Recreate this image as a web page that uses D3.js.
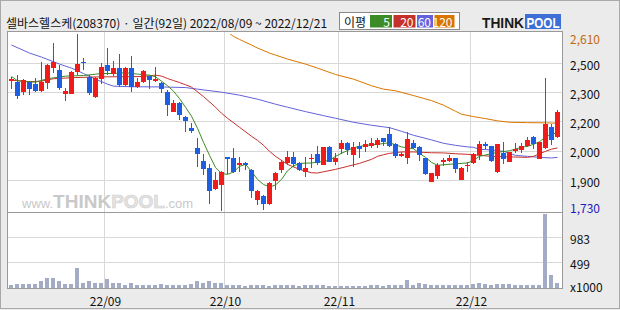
<!DOCTYPE html>
<html><head><meta charset="utf-8">
<script src="https://cdn.jsdelivr.net/npm/d3@7"></script>
<style>body{margin:0;background:#ebebeb}svg{display:block}</style>
</head><body><svg id="c" width="620" height="310"></svg>
<script>
// ---------- DATA ----------
const title = "셀바스헬스케(208370) · 일간(92일) 2022/08/09 ~ 2022/12/21";
const openP  = [2377,2370,2320,2370,2360,2327,2365,2440,2430,2313,2312,2420,2472,2398,2297,2387,2453,2410,2440,2357,2440,2347,2373,2400,2382,2365,2320,2220,2265,2198,2143,2043,1977,1940,1837,1857,1995,1990,1957,1965,1932,1782,1803,1760,1877,1932,1965,1998,1965,1920,1987,2010,1957,2048,1970,2037,2065,2007,2053,2048,2053,2057,2090,2110,2060,2002,1990,2065,2045,1990,1870,1902,1970,1977,1990,1882,1952,1965,2007,2060,2052,1920,2015,1970,2030,2032,2052,2095,1987,2040,2145,2097];
const highP  = [2398,2405,2385,2377,2393,2470,2460,2565,2453,2343,2427,2610,2490,2407,2398,2465,2540,2473,2510,2443,2498,2393,2430,2403,2443,2370,2332,2282,2270,2203,2165,2090,2010,1960,1923,1927,1995,2040,1998,1970,1937,1832,1807,1873,1923,1982,2028,2020,1970,1998,2010,2053,2048,2053,2015,2082,2073,2070,2070,2082,2090,2090,2093,2148,2065,2020,2120,2082,2053,1993,1915,1965,1990,2007,1993,1948,1973,2015,2077,2070,2052,2060,2073,2023,2065,2065,2098,2103,2073,2390,2160,2232];
const lowP   = [2337,2287,2307,2307,2320,2320,2337,2415,2332,2277,2312,2407,2432,2307,2290,2360,2407,2403,2348,2353,2323,2343,2365,2337,2373,2315,2203,2220,2182,2120,2115,1948,1907,1762,1832,1727,1910,1915,1923,1932,1790,1757,1732,1757,1832,1915,1957,1948,1927,1898,1943,1957,1957,1970,1957,2010,2007,1948,1990,2020,2043,2040,2053,2048,1990,1998,1960,2037,1977,1907,1870,1887,1953,1970,1915,1882,1923,1960,1982,2037,1973,1915,1960,1970,2015,2015,2048,2037,1987,2037,2057,2090];
const closeP = [2387,2302,2380,2335,2327,2370,2453,2470,2340,2325,2423,2460,2463,2315,2390,2443,2427,2440,2357,2440,2348,2370,2427,2383,2385,2337,2257,2265,2207,2177,2127,2010,1937,1827,1882,1920,1987,1920,1965,1957,1827,1828,1762,1865,1915,1973,1998,1960,1932,1940,1993,1965,2048,1973,1990,2065,2032,2048,2037,2060,2065,2080,2070,2053,2003,2010,2085,2040,2007,1910,1915,1957,1980,1990,1937,1943,1957,2010,2060,2052,1977,2060,1987,2020,2035,2052,2082,2062,2070,2160,2082,2220];
const volumeK = [51,71,71,71,71,129,187,187,129,78,71,394,97,129,97,97,168,90,90,58,90,58,58,58,58,83,64,64,64,64,83,129,90,129,90,90,64,51,64,32,64,51,51,32,64,51,51,51,32,64,51,51,51,46,46,46,46,46,46,32,51,64,32,64,64,64,161,51,103,78,64,64,51,51,51,64,51,83,103,78,58,83,78,78,64,64,64,51,51,1426,245,103];
// moving averages: [day index, value]
const ma5 = [[0,2398],[1,2377],[2,2373],[4,2370],[6,2387],[9,2400],[12,2403],[15,2413],[17,2413],[19,2417],[21,2410],[23,2405],[24,2397],[25,2375],[26,2352],[27,2325],[28,2288],[29,2245],[30,2200],[31,2140],[32,2070],[33,2005],[34,1945],[35,1915],[36,1910],[37,1922],[38,1950],[39,1960],[40,1925],[41,1885],[42,1860],[43,1847],[44,1857],[45,1885],[46,1928],[47,1952],[48,1965],[50,1967],[52,1975],[53,1980],[54,2000],[55,2015],[57,2043],[59,2055],[61,2060],[63,2068],[65,2047],[67,2038],[68,2015],[69,1995],[70,1970],[71,1955],[72,1958],[74,1963],[76,1967],[77,1980],[78,2000],[79,2007],[81,2020],[83,2028],[85,2045],[86,2050],[87,2060],[88,2073],[89,2097],[90,2110],[91,2118]];
const ma20 = [[0,2380],[3,2372],[5,2375],[7,2387],[10,2392],[14,2396],[18,2397],[22,2398],[24,2405],[25,2400],[26,2388],[27,2378],[28,2368],[29,2357],[30,2345],[32,2298],[34,2245],[35,2215],[36,2190],[38,2145],[40,2100],[41,2080],[42,2055],[43,2025],[44,2000],[46,1960],[48,1935],[50,1918],[51,1917],[52,1923],[54,1935],[56,1950],[58,1965],[60,1985],[61,2000],[62,2008],[63,2015],[65,2022],[67,2022],[70,2018],[72,2017],[74,2013],[76,2010],[78,2005],[80,2000],[82,1998],[86,1995],[87,2000],[88,2013],[89,2025],[90,2036],[91,2042]];
const ma60 = [[0,2555],[3,2515],[5,2495],[8,2460],[10,2440],[12,2413],[14,2385],[16,2360],[17,2350],[20,2347],[25,2346],[29,2343],[31,2335],[35,2320],[38,2305],[41,2285],[44,2260],[46,2245],[49,2223],[52,2203],[54,2190],[57,2170],[60,2155],[62,2147],[63,2143],[65,2125],[67,2105],[70,2082],[72,2065],[74,2055],[76,2047],[77,2045],[78,2035],[80,2032],[82,2025],[84,2005],[86,2000],[88,1995],[90,1992],[91,1995]];
const ma120 = [[36,2620],[37,2598],[38,2583],[40,2555],[41,2540],[43,2515],[44,2505],[46,2485],[49,2460],[51,2440],[54,2408],[57,2385],[60,2352],[62,2335],[64,2327],[67,2303],[70,2278],[72,2255],[74,2225],[75,2210],[77,2198],[79,2188],[81,2177],[83,2170],[86,2168],[89,2167],[91,2165]];
const priceMax = 2610, priceMin = 1730;
const priceGrid = [2465,2319,2174,2028,1881];
const priceGridLabels = ["2,500","2,300","2,200","2,000","1,900"];
const volTicks = [983,499];
const volMax = 1466;
const monthStart = [16,36,55,77];
const monthLabels = ["22/09","22/10","22/11","22/12"];
const legendItems = [{t:"5",c:"#3d8b26"},{t:"20",c:"#c4302b"},{t:"60",c:"#6262da"},{t:"120",c:"#d97500"}];

// ---------- LAYOUT ----------
const L=7.5, R=562.5, T=31.5, MB=212.5, VB=288;
const svg=d3.select("#c");
const font='"Noto Sans CJK KR","Noto Sans",sans-serif';
svg.append("rect").attr("width",620).attr("height",310).attr("fill","#ebebeb");
svg.append("rect").attr("x",0.5).attr("y",0.5).attr("width",619).attr("height",308).attr("fill","none").attr("stroke","#a9a9a9");

const x=d3.scaleLinear().domain([0,91]).range([11.5,557.5]);
const y=d3.scaleLinear().domain([priceMin,priceMax]).range([210.5,34]);
const yv=d3.scaleLinear().domain([0,volMax]).range([VB,212]);

// panels
svg.append("rect").attr("x",L).attr("y",T).attr("width",R-L).attr("height",VB-T).attr("fill","#fff");

const grid=svg.append("g").attr("stroke","#d8d8d8").attr("shape-rendering","crispEdges");
priceGrid.forEach(v=>grid.append("line").attr("x1",L).attr("x2",R).attr("y1",Math.round(y(v))+0.5).attr("y2",Math.round(y(v))+0.5));
volTicks.forEach(v=>grid.append("line").attr("x1",L).attr("x2",R).attr("y1",Math.round(yv(v))+0.5).attr("y2",Math.round(yv(v))+0.5));
monthStart.forEach(i=>grid.append("line").attr("x1",x(i)-3).attr("x2",x(i)-3).attr("y1",T).attr("y2",VB));

// watermark
const wm=svg.append("text").attr("x",22).attr("y",208).attr("font-family","Arial, 'Liberation Sans', sans-serif").attr("fill","#c9c9c9");
wm.append("tspan").attr("font-size",13).text("www.");
wm.append("tspan").attr("font-size",19).attr("font-weight","bold").text("THINK");
wm.append("tspan").attr("font-size",19).attr("font-weight","bold").attr("fill","#e4e4e4").attr("stroke","#cfcfcf").attr("stroke-width",0.6).text("POOL");
wm.append("tspan").attr("font-size",13).text(".com");

// clip
svg.append("clipPath").attr("id","mc").append("rect").attr("x",L).attr("y",y(priceMax)).attr("width",R-L).attr("height",MB-y(priceMax));

// MA lines
const line=d3.line().x(d=>x(d[0])).y(d=>y(d[1]));
const maG=svg.append("g").attr("clip-path","url(#mc)").attr("fill","none").attr("stroke-width",1);
[[ma120,"#d97500"],[ma60,"#6262da"],[ma20,"#c4302b"],[ma5,"#3d8b26"]].forEach(([d,c])=>maG.append("path").attr("d",line(d)).attr("stroke",c));

// candles
const up="#f01b1b", dn="#1e5ee0";
const cg=svg.append("g").attr("shape-rendering","crispEdges");
d3.range(openP.length).forEach(i=>{
  const col = closeP[i]>=openP[i]?up:dn;
  const cx=x(i);
  cg.append("line").attr("x1",cx).attr("x2",cx).attr("y1",y(highP[i])).attr("y2",y(lowP[i])).attr("stroke",col);
  const top=y(Math.max(openP[i],closeP[i])), bot=y(Math.min(openP[i],closeP[i]));
  cg.append("rect").attr("x",cx-2.5).attr("y",top).attr("width",5).attr("height",Math.max(1.5,bot-top)).attr("fill",col);
});

// volume
svg.append("g").attr("shape-rendering","crispEdges").selectAll("rect").data(volumeK).join("rect")
  .attr("x",(d,i)=>x(i)-2.5).attr("width",4).attr("y",d=>yv(d)).attr("height",d=>VB-yv(d)).attr("fill","#a4abc4");

// frame
const fr=svg.append("g").attr("stroke","#9a9a9a").attr("fill","none").attr("shape-rendering","crispEdges");
fr.append("rect").attr("x",L).attr("y",T).attr("width",R-L).attr("height",VB-T);
fr.append("line").attr("x1",L).attr("x2",R).attr("y1",MB).attr("y2",MB);

// right axis labels
const ax=svg.append("g").attr("font-family",font).attr("font-size",12).attr("dominant-baseline","central");
ax.append("text").attr("x",570).attr("y",y(priceMax)+4).attr("fill","#c06a10").text("2,610");
priceGrid.forEach((v,k)=>ax.append("text").attr("x",570).attr("y",y(v)+1).attr("fill","#111").text(priceGridLabels[k]));
ax.append("text").attr("x",570).attr("y",y(priceMin)-3).attr("fill","#1c1cc0").text("1,730");
volTicks.forEach(v=>ax.append("text").attr("x",570).attr("y",yv(v)+1).attr("fill","#111").text(d3.format("d")(v)));
ax.append("text").attr("x",570).attr("y",yv(0)-2).attr("fill","#111").text("x1000");

// x labels
svg.append("g").attr("font-family",font).attr("font-size",12).attr("text-anchor","middle").attr("dominant-baseline","central")
  .selectAll("text").data(monthStart).join("text").attr("x",i=>x(i)-2).attr("y",300.5).attr("fill","#111").text((d,k)=>monthLabels[k]);

// title
svg.append("text").attr("x",6).attr("y",22.5).attr("dominant-baseline","central").attr("font-family",font).attr("font-size",12).attr("fill","#111").text(title);

// legend
const lg=svg.append("g");
lg.append("rect").attr("x",339.5).attr("y",12.5).attr("width",120).attr("height",17).attr("fill","#fff").attr("stroke","#8a8a8a");
lg.append("text").attr("x",344).attr("y",21.5).attr("dominant-baseline","central").attr("font-family",font).attr("font-size",12).attr("fill","#111").text("이평");
const lw=[22,22,16,20]; let lx=370;
legendItems.forEach((d,k)=>{
  lg.append("rect").attr("x",lx).attr("y",15).attr("width",lw[k]).attr("height",12.5).attr("fill",d.c);
  lg.append("text").attr("x",lx+lw[k]-2).attr("y",21.5).attr("text-anchor","end").attr("dominant-baseline","central").attr("font-family",font).attr("font-size",12).attr("fill","#fff").text(d.t);
  lx+=lw[k]+1.5;
});

// logo
const lgo=svg.append("g").attr("font-family","Arial, 'Liberation Sans', sans-serif").attr("font-weight","bold").attr("font-size",14);
lgo.append("rect").attr("x",525).attr("y",14).attr("width",36).attr("height",15).attr("fill","#3d6fd6");
lgo.append("text").attr("x",482).attr("y",27.5).attr("textLength",42).attr("lengthAdjust","spacingAndGlyphs").attr("fill","#1a1a1a").text("THINK");
lgo.append("text").attr("x",526.5).attr("y",27.5).attr("textLength",33).attr("lengthAdjust","spacingAndGlyphs").attr("fill","#fff").text("POOL");
</script></body></html>
